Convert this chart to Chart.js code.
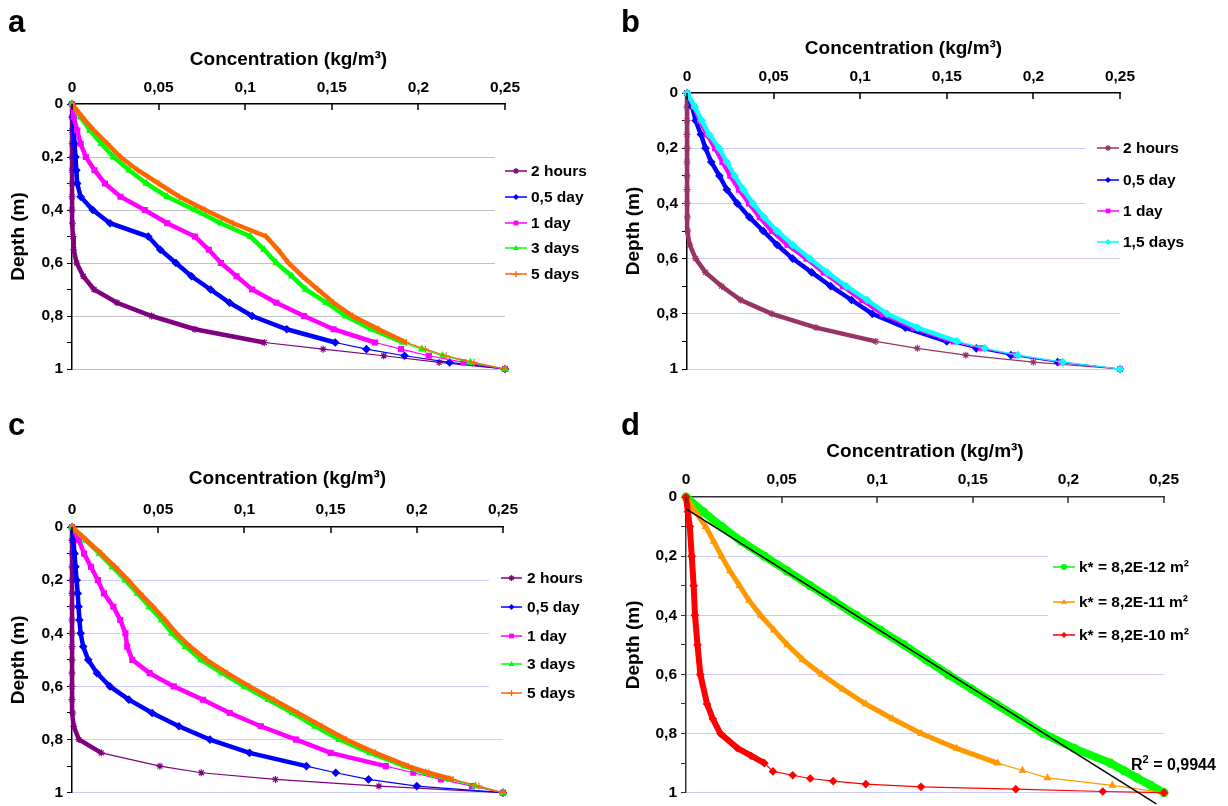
<!DOCTYPE html>
<html>
<head>
<meta charset="utf-8">
<script src="https://cdn.jsdelivr.net/npm/chart.js"></script>
<style>
  body { margin: 0; background: #fff; width: 1228px; height: 806px; position: relative; overflow: hidden;
         font-family: "Liberation Sans", Arial, Helvetica, sans-serif; }
  canvas { position: absolute; }
  .lbl { position: absolute; font-weight: bold; color: #000; line-height: 1; white-space: nowrap; }
</style>
</head>
<body>
<canvas id="chartA" width="614" height="403" style="left:0;top:0"></canvas>
<canvas id="chartB" width="614" height="403" style="left:614px;top:0"></canvas>
<canvas id="chartC" width="614" height="403" style="left:0;top:403px"></canvas>
<canvas id="chartD" width="614" height="403" style="left:614px;top:403px"></canvas>
<div class="lbl" style="left:8px;top:6px;font-size:31px">a</div>
<div class="lbl" style="left:621px;top:6px;font-size:31px">b</div>
<div class="lbl" style="left:8px;top:409px;font-size:31px">c</div>
<div class="lbl" style="left:621px;top:409px;font-size:31px">d</div>
<div class="lbl" style="left:1131px;top:757px;font-size:16px">R<span style="font-size:11px;position:relative;top:-7px">2</span> = 0,9944</div>
<script>
// depth grid (m) shared by the curves of a, b, c and the two upper curves of d
const depthA = [0, 0.05, 0.1, 0.15, 0.2, 0.25, 0.3, 0.35, 0.4, 0.45, 0.5, 0.55, 0.6, 0.65, 0.7, 0.75, 0.8, 0.85, 0.9, 0.925, 0.95, 0.975, 1];
const depthD = depthA;
const depthRed = [0, 0.05, 0.1, 0.2, 0.3, 0.4, 0.5, 0.6, 0.7, 0.75, 0.8, 0.85, 0.875, 0.9, 0.928, 0.941, 0.952, 0.961, 0.971, 0.98, 0.988, 0.996, 1];

const xTicks = [0, 0.05, 0.1, 0.15, 0.2, 0.25];
const yTicks = [0, 0.2, 0.4, 0.6, 0.8, 1];

// panel a (kg/m3)
const labelsA = ['2 hours', '0,5 day', '1 day', '3 days', '5 days'];
const a2h  = [0, 0, 0, 0, 0, 0, 0, 0, 0, 0.0003, 0.0006, 0.001, 0.0027, 0.0065, 0.0127, 0.026, 0.046, 0.071, 0.111, 0.145, 0.18, 0.212, 0.25];
const a05d = [0, 0.0005, 0.001, 0.0015, 0.002, 0.0025, 0.003, 0.005, 0.012, 0.022, 0.044, 0.051, 0.06, 0.069, 0.08, 0.091, 0.104, 0.124, 0.152, 0.17, 0.192, 0.218, 0.25];
const a1d  = [0, 0.001, 0.003, 0.005, 0.008, 0.013, 0.019, 0.028, 0.042, 0.055, 0.071, 0.079, 0.086, 0.095, 0.104, 0.118, 0.134, 0.151, 0.175, 0.19, 0.206, 0.226, 0.25];
const a3d  = [0, 0.005, 0.0105, 0.017, 0.024, 0.033, 0.043, 0.055, 0.071, 0.086, 0.103, 0.111, 0.118, 0.127, 0.135, 0.147, 0.158, 0.173, 0.191, 0.202, 0.214, 0.23, 0.25];
const a5d  = [0, 0.006, 0.0127, 0.0205, 0.028, 0.038, 0.05, 0.062, 0.077, 0.093, 0.112, 0.119, 0.125, 0.133, 0.142, 0.151, 0.162, 0.177, 0.193, 0.204, 0.216, 0.232, 0.25];

// panel b
const labelsB = ['2 hours', '0,5 day', '1 day', '1,5 days'];
const b2h  = [0, 0, 0, 0, 0, 0, 0, 0, 0, 0.0002, 0.0005, 0.0016, 0.005, 0.0107, 0.02, 0.031, 0.049, 0.0745, 0.109, 0.133, 0.161, 0.2, 0.25];
const b05d = [0, 0.003, 0.005, 0.008, 0.0107, 0.014, 0.0187, 0.023, 0.029, 0.036, 0.044, 0.052, 0.061, 0.072, 0.083, 0.095, 0.107, 0.126, 0.15, 0.167, 0.187, 0.214, 0.25];
const b1d  = [0, 0.004, 0.0075, 0.0115, 0.0162, 0.0205, 0.025, 0.03, 0.0358, 0.042, 0.049, 0.058, 0.069, 0.079, 0.09, 0.101, 0.113, 0.131, 0.154, 0.17, 0.19, 0.216, 0.25];
const b15d = [0, 0.0045, 0.0085, 0.0128, 0.0185, 0.023, 0.0275, 0.0325, 0.038, 0.0445, 0.052, 0.061, 0.071, 0.081, 0.092, 0.104, 0.1155, 0.133, 0.156, 0.172, 0.191, 0.217, 0.25];

// panel c
const labelsC = ['2 hours', '0,5 day', '1 day', '3 days', '5 days'];
const c2h  = [0, 0, 0, 0, 0, 0, 0, 0, 0, 0, 0, 0, 0, 0, 0.0005, 0.001, 0.004, 0.017, 0.051, 0.075, 0.118, 0.178, 0.25];
const c05d = [0, 0.0008, 0.0015, 0.002, 0.0027, 0.0033, 0.0038, 0.0043, 0.005, 0.0065, 0.0094, 0.0145, 0.022, 0.033, 0.0465, 0.062, 0.08, 0.103, 0.136, 0.153, 0.172, 0.2, 0.25];
const c1d  = [0, 0.004, 0.007, 0.011, 0.015, 0.0185, 0.024, 0.028, 0.031, 0.032, 0.035, 0.045, 0.059, 0.076, 0.0915, 0.1095, 0.13, 0.15, 0.182, 0.198, 0.214, 0.232, 0.25];
const c3d  = [0, 0.008, 0.016, 0.0235, 0.031, 0.038, 0.045, 0.052, 0.058, 0.066, 0.075, 0.087, 0.1, 0.114, 0.128, 0.141, 0.155, 0.173, 0.193, 0.205, 0.219, 0.234, 0.25];
const c5d  = [0, 0.0085, 0.017, 0.025, 0.0325, 0.0395, 0.047, 0.054, 0.0605, 0.0685, 0.078, 0.09, 0.103, 0.117, 0.131, 0.145, 0.159, 0.176, 0.195, 0.207, 0.221, 0.236, 0.25];

// panel d
const labelsD = ['k* = 8,2E-12 m²', 'k* = 8,2E-11 m²', 'k* = 8,2E-10 m²'];
const dK12 = [0, 0.009, 0.0186, 0.029, 0.041, 0.053, 0.065, 0.077, 0.089, 0.1015, 0.114, 0.1255, 0.137, 0.1495, 0.162, 0.1745, 0.187, 0.203, 0.222, 0.229, 0.236, 0.243, 0.25];
const dK11 = [0, 0.005, 0.0103, 0.0145, 0.0186, 0.023, 0.028, 0.033, 0.039, 0.046, 0.053, 0.061, 0.071, 0.082, 0.094, 0.108, 0.123, 0.1415, 0.163, 0.176, 0.189, 0.223, 0.25];
const dK10 = [0, 0.001, 0.002, 0.003, 0.004, 0.0047, 0.006, 0.0075, 0.011, 0.014, 0.018, 0.027, 0.034, 0.041, 0.0455, 0.0558, 0.065, 0.077, 0.094, 0.1229, 0.1725, 0.218, 0.25];
// linear trend line of the 8,2E-12 curve
const trendConc = [0, 0.246];
const trendDepth = [0.04, 1.038];

const FONT = '"Liberation Sans", Arial, Helvetica, sans-serif';
Chart.defaults.font.family = FONT;
Chart.defaults.color = '#000';

const fmt = v => String(Math.round(v * 100) / 100).replace('.', ',');

function series(label, conc, depth, color, style, thickTo, thick, extra) {
  return Object.assign({
    label: label,
    data: conc.map((c, i) => ({ x: c, y: depth[i] })),
    showLine: true,
    borderColor: color,
    backgroundColor: color,
    pointStyle: style,
    pointRadius: 3.5,
    pointHoverRadius: 3.5,
    pointBorderWidth: 1.2,
    borderWidth: 1.2,
    clip: false,
    segment: { borderWidth: ctx => depth[ctx.p1DataIndex] <= thickTo ? thick : 1.2 }
  }, extra || {});
}

function drawMarker(ctx, style, x, y, r, color) {
  ctx.fillStyle = color;
  ctx.strokeStyle = color;
  ctx.lineWidth = 1.2;
  ctx.beginPath();
  if (style === 'star') {
    for (let i = 0; i < 4; i++) {
      const a = i * Math.PI / 4;
      ctx.moveTo(x + Math.cos(a) * r, y + Math.sin(a) * r);
      ctx.lineTo(x - Math.cos(a) * r, y - Math.sin(a) * r);
    }
    ctx.stroke();
  } else if (style === 'cross') {
    ctx.moveTo(x - r, y); ctx.lineTo(x + r, y);
    ctx.moveTo(x, y - r); ctx.lineTo(x, y + r);
    ctx.stroke();
  } else if (style === 'rect') {
    ctx.fillRect(x - r * 0.8, y - r * 0.8, r * 1.6, r * 1.6);
  } else if (style === 'rectRot') {
    ctx.moveTo(x, y - r); ctx.lineTo(x + r, y); ctx.lineTo(x, y + r); ctx.lineTo(x - r, y);
    ctx.closePath(); ctx.fill();
  } else if (style === 'triangle') {
    ctx.moveTo(x, y - r); ctx.lineTo(x + r, y + r * 0.7); ctx.lineTo(x - r, y + r * 0.7);
    ctx.closePath(); ctx.fill();
  } else {
    ctx.arc(x, y, r, 0, Math.PI * 2); ctx.fill();
  }
}

// legend placed inside the right margin, with a white patch over the grid lines
const sideLegend = {
  id: 'sideLegend',
  beforeDatasetsDraw(chart, args, o) {
    const ctx = chart.ctx;
    ctx.save();
    ctx.fillStyle = '#fff';
    ctx.fillRect(o.box[0], o.box[1], o.box[2], o.box[3]);
    ctx.restore();
  },
  afterDraw(chart, args, o) {
    const ctx = chart.ctx;
    ctx.save();
    ctx.font = 'bold 15.5px ' + FONT;
    ctx.textBaseline = 'middle';
    let k = 0;
    chart.data.datasets.forEach(ds => {
      if (ds.noLegend) return;
      const y = o.ys[k++];
      ctx.strokeStyle = ds.borderColor;
      ctx.lineWidth = 1.5;
      ctx.beginPath();
      ctx.moveTo(o.x0, y); ctx.lineTo(o.x1, y);
      ctx.stroke();
      drawMarker(ctx, ds.pointStyle, (o.x0 + o.x1) / 2, y, 3, ds.borderColor);
      ctx.fillStyle = '#000';
      ctx.fillText(ds.label, o.tx, y + 1);
    });
    ctx.restore();
  }
};

// tick marks of the top axis point down into the plot
const innerTicks = {
  id: 'innerTicks',
  afterDraw(chart, args, o) {
    const s = chart.scales.x, ctx = chart.ctx, top = chart.chartArea.top;
    ctx.save();
    ctx.strokeStyle = o.color;
    ctx.lineWidth = 1.5;
    s.ticks.forEach(t => {
      const px = Math.round(s.getPixelForValue(t.value));
      ctx.beginPath();
      ctx.moveTo(px, top);
      ctx.lineTo(px, top + 6);
      ctx.stroke();
    });
    ctx.restore();
  }
};

function makeChart(id, p) {
  const n = p.datasets.length;
  p.datasets.forEach((ds, i) => { ds.order = n - i; });
  return new Chart(document.getElementById(id), {
    type: 'scatter',
    data: { datasets: p.datasets },
    options: {
      responsive: false,
      animation: false,
      devicePixelRatio: 1,
      layout: { padding: p.pad },
      plugins: {
        legend: { display: false },
        tooltip: { enabled: false },
        sideLegend: p.legend,
        innerTicks: { color: p.axis }
      },
      scales: {
        x: {
          type: 'linear', position: 'top', min: 0, max: 0.25,
          afterFit: s => { s.height = p.xh; },
          afterBuildTicks: s => { s.ticks = xTicks.map(v => ({ value: v })); },
          ticks: { padding: p.tp, autoSkip: false, maxRotation: 0, color: '#000',
                   font: { size: 15.5, weight: 'bold' }, callback: v => fmt(v) },
          grid: { drawOnChartArea: false, drawTicks: false },
          border: { color: p.axis, width: 1.5 },
          title: { display: true, text: 'Concentration (kg/m³)', color: '#000', padding: 0,
                   font: { size: 19, weight: 'bold' } }
        },
        y: {
          type: 'linear', reverse: true, min: 0, max: 1,
          afterFit: s => { s.width = p.yw; },
          ticks: { stepSize: 0.1, padding: 4, autoSkip: false, color: '#000',
                   font: { size: 15.5, weight: 'bold' },
                   callback: v => yTicks.some(t => Math.abs(t - v) < 1e-6) ? fmt(v) : '' },
          grid: {
            color: ctx => (ctx.tick && ctx.tick.value > 0.01 && yTicks.some(t => Math.abs(t - ctx.tick.value) < 1e-6)) ? p.grid : 'rgba(0,0,0,0)',
            tickColor: p.axis, tickLength: 5, lineWidth: 1
          },
          border: { color: p.axis, width: 1.5 },
          title: { display: true, text: 'Depth (m)', color: '#000', padding: 0,
                   font: { size: 19, weight: 'bold' } }
        }
      }
    },
    plugins: [sideLegend, innerTicks]
  });
}

makeChart('chartA', {
  pad: { left: 7, top: 48, right: 109, bottom: 34 }, yw: 65, xh: 56, tp: 7,
  grid: '#c0c0c0', axis: '#000',
  legend: { box: [495, 150, 119, 140], x0: 505, x1: 527, tx: 531, ys: [171, 197, 223, 248, 274] },
  datasets: [
    series(labelsA[0], a2h, depthA, '#800080', 'star', 0.9, 4.5),
    series(labelsA[1], a05d, depthA, '#0000ff', 'rectRot', 0.9, 4.5),
    series(labelsA[2], a1d, depthA, '#ff00ff', 'rect', 0.9, 4.5),
    series(labelsA[3], a3d, depthA, '#00ff00', 'triangle', 0.9, 4.5),
    series(labelsA[4], a5d, depthA, '#ff6600', 'cross', 0.9, 4.5)
  ]
});

makeChart('chartB', {
  pad: { left: 8, top: 37, right: 108, bottom: 34 }, yw: 65, xh: 56, tp: 7,
  grid: '#ccccff', axis: '#000',
  legend: { box: [471, 140, 143, 112], x0: 483, x1: 505, tx: 509, ys: [148, 180, 211, 242] },
  datasets: [
    series(labelsB[0], b2h, depthA, '#993366', 'star', 0.9, 4.5),
    series(labelsB[1], b05d, depthA, '#0000ff', 'rectRot', 0.9, 4.5),
    series(labelsB[2], b1d, depthA, '#ff00ff', 'rect', 0.9, 4.5),
    series(labelsB[3], b15d, depthA, '#00ffff', 'rectRot', 0.9, 4.5)
  ]
});

makeChart('chartC', {
  pad: { left: 7, top: 64, right: 111, bottom: 12 }, yw: 65, xh: 60, tp: 8,
  grid: '#ccccff', axis: '#000',
  legend: { box: [489, 165, 125, 130], x0: 501, x1: 522, tx: 527, ys: [175, 204, 233, 261, 290] },
  datasets: [
    series(labelsC[0], c2h, depthA, '#800080', 'star', 0.86, 4.5),
    series(labelsC[1], c05d, depthA, '#0000ff', 'rectRot', 0.9, 4.5),
    series(labelsC[2], c1d, depthA, '#ff00ff', 'rect', 0.9, 4.5),
    series(labelsC[3], c3d, depthA, '#00ff00', 'triangle', 0.95, 4.5),
    series(labelsC[4], c5d, depthA, '#ff6600', 'cross', 0.95, 4.5)
  ]
});

makeChart('chartD', {
  pad: { left: 8, top: 37, right: 64, bottom: 12 }, yw: 64, xh: 57, tp: 8,
  grid: '#ccccff', axis: '#333',
  legend: { box: [434, 145, 180, 100], x0: 439, x1: 461, tx: 465, ys: [164, 199, 232] },
  datasets: [
    series(labelsD[0], dK12, depthD, '#00ff00', 'circle', 1, 8, { pointRadius: 4 }),
    series(labelsD[1], dK11, depthD, '#ff9900', 'triangle', 0.9, 5),
    series(labelsD[2], dK10, depthRed, '#ff0000', 'rectRot', 0.9, 6),
    series('trend', trendConc, trendDepth, '#000000', 'circle', 0, 1.5,
           { pointRadius: 0, borderWidth: 1.5, noLegend: true, segment: {} })
  ]
});
</script>
</body>
</html>
